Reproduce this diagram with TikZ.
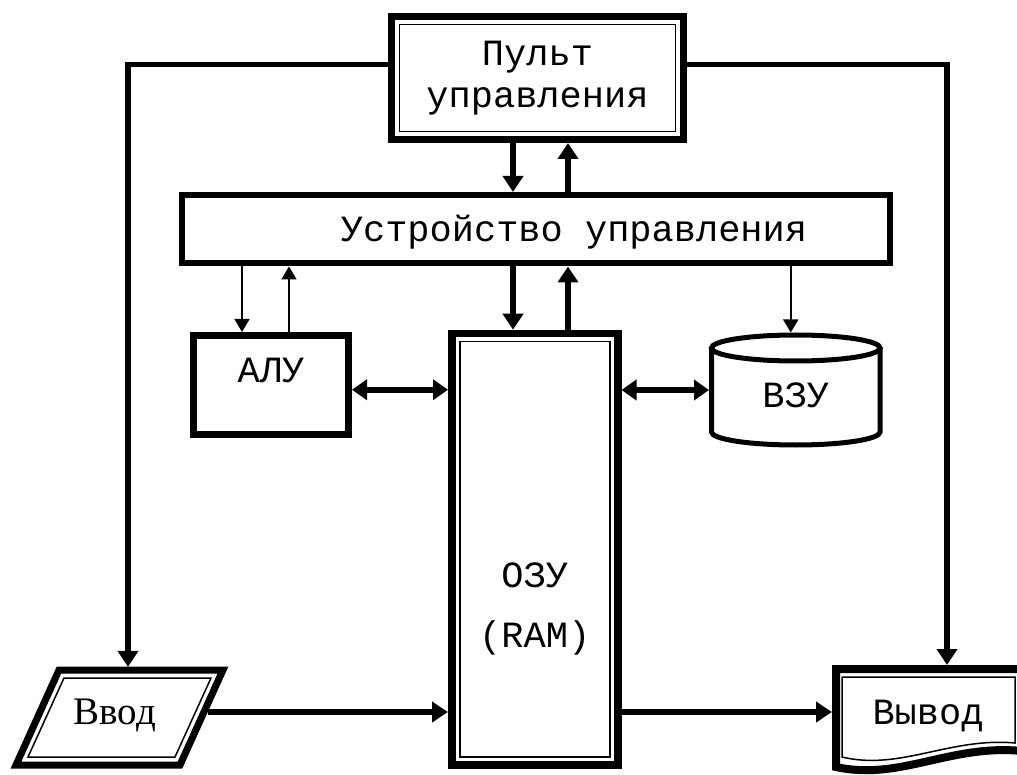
\documentclass[tikz,border=0pt]{standalone}
\usepackage{fontspec}
\setmainfont{Liberation Mono}
\newfontfamily\serifrm{Liberation Serif}
\usepackage{tikz}
\usetikzlibrary{arrows.meta}

\begin{document}
\begin{tikzpicture}[
		x=1pt, y=-1pt,
		every node/.style={font=\fontsize{37}{42}\selectfont, inner sep=0pt},
		block/.style={draw, line width=7pt},
		twoline/.style={path picture={\draw[line width=1.5pt] ([shift={(8pt,-8pt)}]path picture bounding box.north west) rectangle ([shift={(-8pt,8pt)}]path picture bounding box.south east);}},
		bus/.style={line width=5.5pt, -{Triangle[length=16pt,width=20pt]}},
		both/.style={line width=5.5pt, {Triangle[length=15pt,width=20pt]}-{Triangle[length=15pt,width=20pt]}},
		ctl/.style={line width=1.8pt, -{Triangle[length=13pt,width=15pt]}}
	]
	\useasboundingbox[fill=white] (0,0) rectangle (1017,775);

	\node[block, twoline, minimum width=292, minimum height=123, align=center] (pult) at (537.5,78) {Пульт\\управления};
	\node[block, line width=6pt, minimum width=708, minimum height=68.5, text height=25.4pt, text depth=0pt] (uu) at (536,229.25) {\hspace*{76pt}Устройство управления};
	\node[block, minimum width=155, minimum height=98.5, text height=20pt, text depth=25.5pt] (alu) at (271,384.75) {АЛУ};
	\node[block, twoline, line width=7.5pt, minimum width=166, minimum height=431.5, text height=80pt, text depth=3pt] (ozu) at (534.75,549.25) {\begin{tabular}[t]{@{}c@{}}ОЗУ\\[18pt](RAM)\end{tabular}};
	\node[minimum width=168.5, minimum height=110, outer sep=2.5pt, text height=34pt, text depth=0pt] (vzu) at (795.75,390) {ВЗУ};
	\node[font=\fontsize{39}{44}\selectfont\serifrm, minimum width=184, minimum height=90, text height=25pt, text depth=0pt] (vvod) at (115,712) {Ввод};
	\node[minimum width=184, minimum height=86, outer sep=4pt, text height=25.4pt, text depth=0pt] (vyvod) at (928,712) {Вывод};

	% ВЗУ
	\draw[line width=5pt] (795.75,348) ellipse [x radius=84.25pt, y radius=13pt];
	\draw[line width=5pt] (711.5,348) -- (711.5,432) arc[start angle=180, end angle=360, x radius=84.25pt, y radius=13pt] -- (880,348);
	% Ввод
	\draw[line width=7pt] (59,670) -- (223,670) -- (180,765) -- (16,765) -- cycle;
	\draw[line width=1.5pt] (64,678) -- (211,678) -- (175,757) -- (28,757) -- cycle;
	% Вывод
	\draw[line width=8pt] (836,669) -- (1022,669) -- (1022,751) .. controls (950,744) and (900,781) .. (836,767) -- cycle;
	\draw[line width=1.5pt] (842,677) -- (1015,677) -- (1015,743) .. controls (950,737) and (900,771) .. (842,757) -- cycle;

	\draw[bus] ([yshift=13.5pt]pult.west) -| ([xshift=13pt]vvod.north);
	\draw[bus] ([yshift=13.5pt]pult.east) -| ([xshift=19pt]vyvod.north);

	\draw[bus] ([xshift=-24.5pt]pult.south) -- ([xshift=-24.5pt]pult.south |- uu.north);
	\draw[bus] ([xshift=30.5pt]pult.south |- uu.north) -- ([xshift=30.5pt]pult.south);
	\draw[bus] ([xshift=-21.75pt]ozu.north |- uu.south) -- ([xshift=-21.75pt]ozu.north);
	\draw[bus] ([xshift=33.25pt]ozu.north) -- ([xshift=33.25pt]ozu.north |- uu.south);

	\draw[ctl] ([xshift=-29pt]alu.north |- uu.south) -- ([xshift=-29pt]alu.north);
	\draw[ctl] ([xshift=18pt]alu.north) -- ([xshift=18pt]alu.north |- uu.south);
	\draw[ctl] ([xshift=-5pt]vzu.north |- uu.south) -- ([xshift=-5pt]vzu.north);

	\draw[both] ([yshift=-5pt]alu.east) -- ([yshift=-5pt]alu.east -| ozu.west);
	\draw[both] (vzu.west -| ozu.east) -- (vzu.west);

	\draw[bus] ([xshift=1pt]vvod.east) -- (vvod.east -| ozu.west);
	\draw[bus] (vyvod.west -| ozu.east) -- (vyvod.west);
\end{tikzpicture}
\end{document}
